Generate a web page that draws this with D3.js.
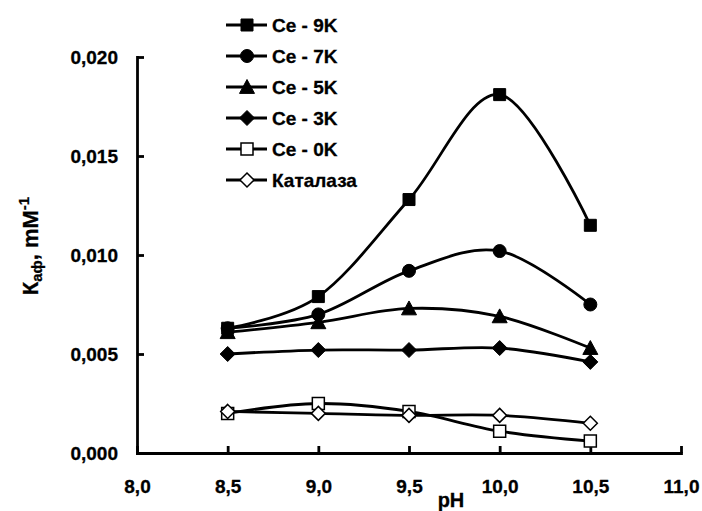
<!DOCTYPE html>
<html>
<head>
<meta charset="utf-8">
<script src="https://cdn.jsdelivr.net/npm/d3@7"></script>
<style>
  body { margin: 0; background: #fff; }
  svg text { font-family: "Liberation Sans", Arial, sans-serif; font-weight: bold; fill: #000; stroke: #000; stroke-width: 0.3px; }
</style>
</head>
<body>
<svg id="chart" width="702" height="511"></svg>
<script>
// pH points and K values (mM^-1)
const phValues = [8.5, 9.0, 9.5, 10.0, 10.5];
const ce9 = [0.0063, 0.0079, 0.0128, 0.0181, 0.0115];
const ce7 = [0.0063, 0.0070, 0.0092, 0.0102, 0.0075];
const ce5 = [0.0061, 0.0066, 0.0073, 0.0069, 0.0053];
const ce3 = [0.0050, 0.0052, 0.0052, 0.0053, 0.0046];
const ce0 = [0.0020, 0.0025, 0.0021, 0.0011, 0.0006];
const catalase = [0.0021, 0.0020, 0.0019, 0.0019, 0.0015];

const seriesNames = ['Ce - 9K', 'Ce - 7K', 'Ce - 5K', 'Ce - 3K', 'Ce - 0K', 'Каталаза'];
const xTicks = [8.0, 8.5, 9.0, 9.5, 10.0, 10.5, 11.0];
const yTicks = [0, 0.005, 0.010, 0.015, 0.020];

// marker shapes, drawn as custom d3.symbol types
const shapes = {
  square: { draw(c, s) { const r = s / 2; c.rect(-r, -r, s, s); } },
  circle: { draw(c, s) { c.arc(0, 0, s / 2, 0, 2 * Math.PI); } },
  triangle: { draw(c, s) { const h = s / 2; c.moveTo(0, -h); c.lineTo(h, h * 0.85); c.lineTo(-h, h * 0.85); c.closePath(); } },
  diamond: { draw(c, s) { const h = s / 2; c.moveTo(0, -h); c.lineTo(h, 0); c.lineTo(0, h); c.lineTo(-h, 0); c.closePath(); } }
};

const series = [
  { name: seriesNames[0], values: ce9, shape: 'square', size: 12, fill: '#000' },
  { name: seriesNames[1], values: ce7, shape: 'circle', size: 13, fill: '#000' },
  { name: seriesNames[2], values: ce5, shape: 'triangle', size: 15, fill: '#000' },
  { name: seriesNames[3], values: ce3, shape: 'diamond', size: 15, fill: '#000' },
  { name: seriesNames[4], values: ce0, shape: 'square', size: 12, fill: '#fff' },
  { name: seriesNames[5], values: catalase, shape: 'diamond', size: 14, fill: '#fff' }
];

const svg = d3.select('#chart');
const x = d3.scaleLinear().domain([8, 11]).range([137, 681]);
const y = d3.scaleLinear().domain([0, 0.02]).range([453, 57]);

const loc = d3.formatLocale({ decimal: ',', thousands: ' ', grouping: [3], currency: ['', ''] });

// axes (ticks point inside, like the original)
const yAxis = svg.append('g')
  .attr('transform', `translate(${x(8)},0)`)
  .call(d3.axisLeft(y).tickValues(yTicks).tickSize(-7).tickSizeOuter(0).tickPadding(19).tickFormat(loc.format('.3f')));
const xAxis = svg.append('g')
  .attr('transform', `translate(0,${y(0)})`)
  .call(d3.axisBottom(x).tickValues(xTicks).tickSize(-7).tickSizeOuter(0).tickPadding(27).tickFormat(loc.format('.1f')));

[yAxis, xAxis].forEach(a => {
  a.selectAll('path, line').attr('stroke', '#000').attr('stroke-width', 2.8);
  a.selectAll('text').style('font-size', '19px');
  a.select('.domain').attr('stroke-linecap', 'square');
});

// axis titles
svg.append('text')
  .attr('x', 451).attr('y', 507)
  .attr('text-anchor', 'middle')
  .style('font-size', '20px')
  .text('pH');

const yTitle = svg.append('text')
  .attr('transform', 'translate(38,246) rotate(-90)')
  .attr('text-anchor', 'middle')
  .style('font-size', '22px');
yTitle.append('tspan').text('К');
yTitle.append('tspan').attr('dy', 4).style('font-size', '15px').text('аф');
yTitle.append('tspan').attr('dy', -4).text(', mM');
yTitle.append('tspan').attr('dy', -9).style('font-size', '15px').text('-1');

// smoothed lines + markers
const line = d3.line()
  .x((d, i) => x(phValues[i]))
  .y(d => y(d))
  .curve(d3.curveCardinal.tension(0));

series.forEach(s => {
  svg.append('path')
    .attr('d', line(s.values))
    .attr('fill', 'none')
    .attr('stroke', '#000')
    .attr('stroke-width', 2.8);
});

series.forEach(s => {
  const sym = d3.symbol().type(shapes[s.shape]).size(s.size);
  svg.append('g').selectAll('path')
    .data(s.values)
    .enter()
    .append('path')
    .attr('transform', (d, i) => `translate(${x(phValues[i])},${y(d)})`)
    .attr('d', sym)
    .attr('fill', s.fill)
    .attr('stroke', '#000')
    .attr('stroke-width', s.fill === '#fff' ? 1.5 : 1);
});

// legend
const legend = svg.append('g').selectAll('g')
  .data(series)
  .enter()
  .append('g')
  .attr('transform', (d, i) => `translate(0,${25 + i * 31})`);

legend.append('line')
  .attr('x1', 226).attr('x2', 267)
  .attr('stroke', '#000').attr('stroke-width', 2.8);
legend.append('path')
  .attr('transform', 'translate(247,0)')
  .attr('d', d => d3.symbol().type(shapes[d.shape]).size(d.size)())
  .attr('fill', d => d.fill)
  .attr('stroke', '#000')
  .attr('stroke-width', d => d.fill === '#fff' ? 1.5 : 1);
legend.append('text')
  .attr('x', 272).attr('y', 6.5)
  .style('font-size', '19px')
  .text(d => d.name);
</script>
</body>
</html>
